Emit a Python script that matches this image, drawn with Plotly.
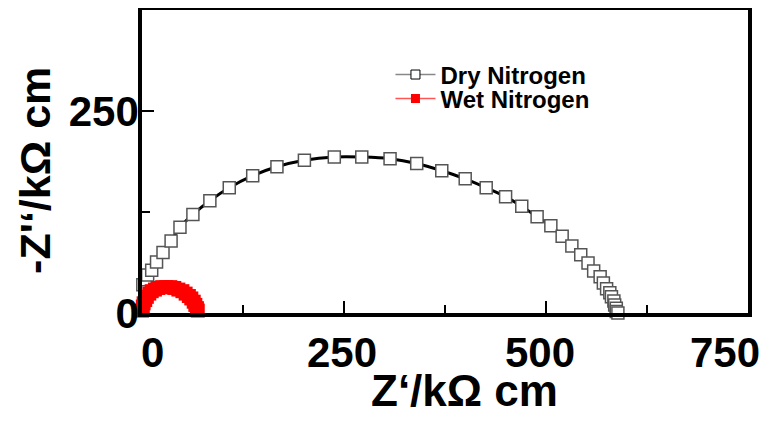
import plotly.graph_objects as go

# ---- data ----
dry_x = [-6, -6, -5, -1, 1, 4, 7, 12, 18, 26, 36, 47, 63, 84, 108, 137, 167, 201,
         238, 272, 307, 340, 371, 400, 426, 450, 470, 489, 506, 520, 532, 543, 552,
         559, 567, 571, 575, 579, 581, 584, 585, 587, 587, 589]
dry_y = [5, 10, 22, 28, 35, 41, 47, 53, 63, 75, 89, 106, 122, 139, 155, 170, 181, 189,
         193, 193, 191, 185, 176, 166, 155, 144, 132, 119, 108, 95, 83, 72, 62,
         52, 45, 37, 30, 25, 20, 15, 10, 6, 2, 0]

wet_x = [0, 1, 2, 4, 6, 9, 12, 16, 20, 25, 30, 35, 40, 45, 50, 54, 58, 61, 64, 66, 68, 69]
wet_y = [3, 8, 12, 16, 20, 24, 27, 29, 31, 32, 32, 32, 31, 29, 27, 24, 21, 18, 14, 10, 6, 3]

series_names = ["Dry Nitrogen", "Wet Nitrogen"]
x_tick_vals = [0, 250, 500, 750]
x_tick_text = ["0", "250", "500", "750"]
y_tick_vals = [0, 250]
y_tick_text = ["0", "250"]
x_title = "Z‘/kΩ cm"
y_title = "-Z'‘/kΩ cm"

# ---- styling ----
FONT = "Liberation Sans, Arial, Helvetica, sans-serif"
x_label_shift = [10, -2, -6, -23]   # layout offsets of the x tick labels (px)

fig = go.Figure()

# fitted line through the dry data
fig.add_trace(go.Scatter(x=dry_x, y=dry_y, mode="lines",
                         line=dict(color="black", width=3, shape="spline"),
                         showlegend=False, cliponaxis=False, hoverinfo="skip"))
# dry markers
fig.add_trace(go.Scatter(x=dry_x, y=dry_y, mode="markers",
                         marker=dict(symbol="square", size=12, color="white",
                                     line=dict(color="#555555", width=1.5)),
                         showlegend=False, cliponaxis=False, name=series_names[0]))
# wet markers
fig.add_trace(go.Scatter(x=wet_x, y=wet_y, mode="lines+markers",
                         line=dict(color="red", width=1),
                         marker=dict(symbol="square", size=14, color="red", line=dict(width=0)),
                         showlegend=False, cliponaxis=False, name=series_names[1]))

# legend entries
fig.add_trace(go.Scatter(x=[None], y=[None], mode="lines+markers", name=series_names[0],
                         legend="legend",
                         line=dict(color="#888888", width=1.5),
                         marker=dict(symbol="square", size=9, color="white",
                                     line=dict(color="black", width=1))))
fig.add_trace(go.Scatter(x=[None], y=[None], mode="lines+markers", name=series_names[1],
                         legend="legend2",
                         line=dict(color="#ff5555", width=1.5),
                         marker=dict(symbol="square", size=9, color="red", line=dict(width=0))))

axis_common = dict(showline=True, mirror=True, linecolor="black", linewidth=3.5,
                   showgrid=False, zeroline=False, ticks="inside", ticklen=12,
                   tickwidth=2, tickcolor="black")

fig.update_xaxes(range=[0, 750], tickvals=x_tick_vals, showticklabels=False,
                 minor=dict(tickvals=[125, 375, 625], ticks="inside", ticklen=8,
                            tickwidth=1.5, tickcolor="black"),
                 automargin=False, **axis_common)
fig.update_yaxes(range=[0, 375], tickvals=y_tick_vals, ticktext=y_tick_text,
                 tickfont=dict(family=FONT, size=42, color="black", weight="bold"),
                 ticklabelstandoff=-9,
                 minor=dict(tickvals=[125], ticks="inside", ticklen=8,
                            tickwidth=1.5, tickcolor="black"),
                 automargin=False, **axis_common)

annotations = []
for v, t, s in zip(x_tick_vals, x_tick_text, x_label_shift):
    annotations.append(dict(x=v, y=0, xref="x", yref="paper", text=t, showarrow=False,
                            xanchor="center", yanchor="middle", xshift=s, yshift=-39,
                            font=dict(family=FONT, size=42, color="black", weight="bold")))
annotations.append(dict(x=0.533, y=0, xref="paper", yref="paper", text=x_title,
                        showarrow=False, xanchor="center", yanchor="middle", yshift=-77,
                        font=dict(family=FONT, size=44, color="black", weight="bold")))
annotations.append(dict(x=0, y=0.469, xref="paper", yref="paper", text=y_title,
                        showarrow=False, textangle=-90, xanchor="center", yanchor="middle",
                        xshift=-107, borderpad=0,
                        font=dict(family=FONT, size=43, color="black", weight="bold")))

legend_font = dict(family=FONT, size=24, color="black", weight="bold")
fig.update_layout(
    width=774, height=413, autosize=False,
    margin=dict(l=134, r=34, t=2, b=108),
    paper_bgcolor="white", plot_bgcolor="white",
    annotations=annotations,
    legend=dict(x=0.41, y=0.86, xanchor="left", yanchor="top",
                bgcolor="rgba(0,0,0,0)", borderwidth=0,
                font=legend_font, itemwidth=40),
    legend2=dict(x=0.41, y=0.781, xanchor="left", yanchor="top",
                 bgcolor="rgba(0,0,0,0)", borderwidth=0,
                 font=legend_font, itemwidth=40),
    showlegend=True,
)

fig.write_html("out.html")
